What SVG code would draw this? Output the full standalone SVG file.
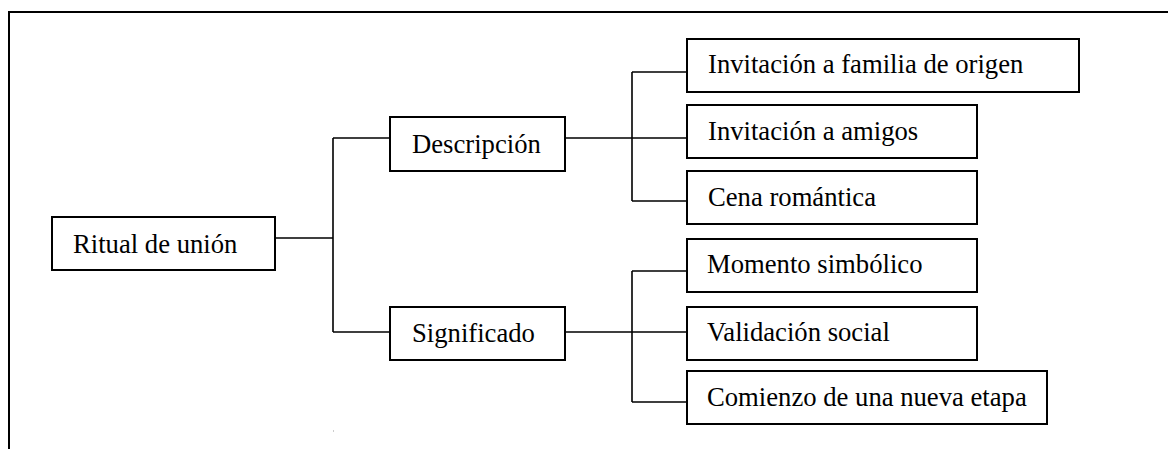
<svg xmlns="http://www.w3.org/2000/svg" width="1168" height="449" viewBox="0 0 1168 449">
<style>
.box{fill:#fff;stroke:#000;stroke-width:2}
.lbl{font-family:"Liberation Serif","Times New Roman",serif;font-size:26.67px;fill:#000}
.con{fill:none;stroke:#000;stroke-width:1.6}
.frame{fill:none;stroke:#000;stroke-width:2}
</style>
<rect width="1168" height="449" fill="#fff"/>
<path class="frame" d="M9,449 V12 H1168"/>
<rect x="333" y="430.5" width="1" height="1" fill="#999"/>
<g id="connectors">
<path class="con" d="M275,238 H333 M333,138 V332 M333,138 H390 M333,332 H390"/>
<path class="con" d="M565,138 H632 M632,72 V201 M632,72 H687 M632,138 H687 M632,201 H687"/>
<path class="con" d="M565,332 H632 M632,271 V402 M632,271 H687 M632,332 H687 M632,402 H687"/>
</g>
<g id="root"><rect class="box" x="52" y="217" width="223" height="53"/><text class="lbl" x="73" y="253">Ritual de unión</text></g>
<g id="descripcion"><rect class="box" x="390" y="117" width="175" height="54"/><text class="lbl" x="412" y="153">Descripción</text></g>
<g id="significado"><rect class="box" x="390" y="307" width="175" height="53"/><text class="lbl" x="412" y="342">Significado</text></g>
<g id="familia"><rect class="box" x="687" y="39" width="392" height="53"/><text class="lbl" x="708" y="73">Invitación a familia de origen</text></g>
<g id="amigos"><rect class="box" x="687" y="105" width="290" height="53"/><text class="lbl" x="708" y="140">Invitación a amigos</text></g>
<g id="cena"><rect class="box" x="687" y="171" width="290" height="53"/><text class="lbl" x="708" y="206">Cena romántica</text></g>
<g id="momento"><rect class="box" x="687" y="239" width="290" height="53"/><text class="lbl" x="707" y="273">Momento simbólico</text></g>
<g id="validacion"><rect class="box" x="687" y="307" width="290" height="53"/><text class="lbl" x="707" y="341">Validación social</text></g>
<g id="comienzo"><rect class="box" x="687" y="371" width="360" height="53"/><text class="lbl" x="707" y="406">Comienzo de una nueva etapa</text></g>
</svg>
